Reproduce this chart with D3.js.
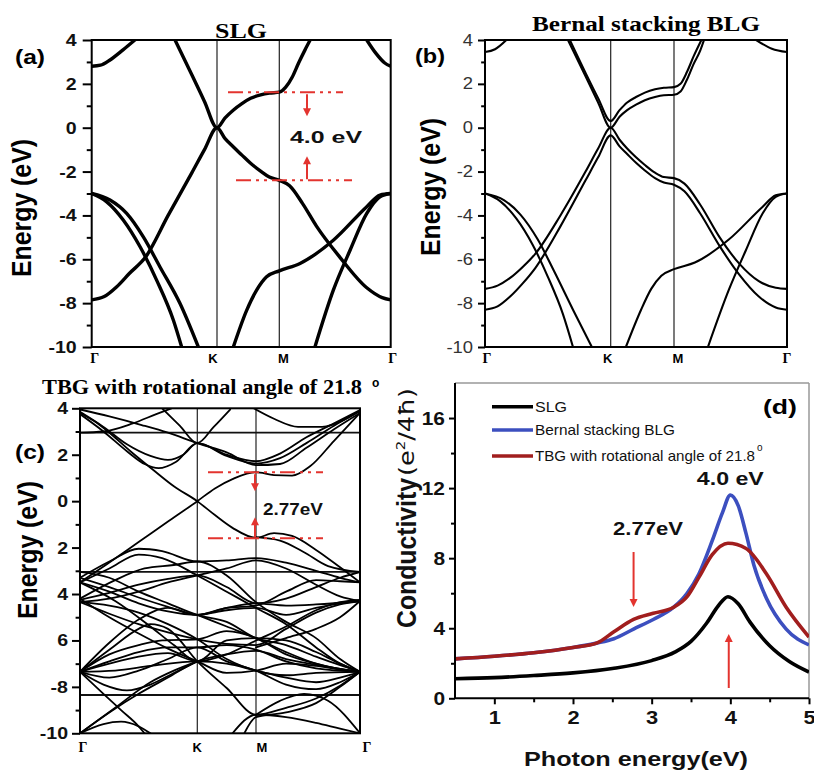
<!DOCTYPE html>
<html><head><meta charset="utf-8">
<script src="https://cdn.jsdelivr.net/npm/d3@7"></script>
<style>body{margin:0;background:#fff}svg{display:block}</style>
</head><body><svg id="fig" width="814" height="773"></svg>
<script>
// ---------- DATA ----------
const kPath = [0, 1, 1.5, 2.366];           // Γ, K, M, Γ (path coordinate)
const kPathLabels = ["Γ", "K", "M", "Γ"];
const energyTicks = [4, 2, 0, -2, -4, -6, -8, -10];
const energyMinorTicks = [3, 1, -1, -3, -5, -7, -9];
const energyTickLabelsA = ["4", "2", "0", "-2", "-4", "-6", "-8", "-10"];
const energyTickLabelsB = ["4", "2", "0", "-2", "-4", "-6", "-8", "-10"];
const energyTickLabelsC = ["4", "2", "0", "2", "4", "6", "-8", "-10"];
const panelTitles = ["SLG", "Bernal stacking BLG", "TBG with rotational angle of 21.8"];
const gapLabels = ["4.0 eV", "2.77eV"];

// (a) SLG bands [k, E]
const slgBands = [
  [[0,-7.85],[0.1,-7.7],[0.2,-7.25],[0.3,-6.65],[0.43,-5.9],[0.61,-4.0],[0.8,-2.05],[0.9,-1.0],[1,0],[1.065,-0.5],[1.13,-0.87],[1.2,-1.25],[1.265,-1.6],[1.35,-1.98],[1.42,-2.25],[1.5,-2.4],[1.58,-2.65],[1.68,-3.45],[1.79,-4.5],[1.97,-5.9],[2.18,-7.3],[2.3,-7.75],[2.366,-7.85]],
  [[0.665,4],[0.8,2.4],[0.9,1.2],[1,0],[1.065,0.45],[1.13,0.8],[1.2,1.1],[1.27,1.34],[1.35,1.5],[1.42,1.58],[1.5,1.62],[1.55,1.85],[1.6,2.3],[1.65,2.95],[1.7,3.55],[1.74,4.0]],
  [[0,2.8],[0.07,2.85],[0.146,3.09],[0.25,3.55],[0.345,4.0]],
  [[2.18,4.0],[2.25,3.4],[2.32,2.95],[2.366,2.8]],
  [[0,-3.0],[0.12,-3.38],[0.253,-4.22],[0.386,-5.43],[0.519,-6.96],[0.652,-8.78],[0.718,-10.0]],
  [[0,-3.0],[0.146,-3.3],[0.279,-3.91],[0.412,-4.98],[0.545,-6.35],[0.705,-8.02],[0.851,-10.0]],
  [[1.131,-10],[1.238,-8.33],[1.318,-7.41],[1.398,-6.8],[1.5,-6.53],[1.661,-6.19],[1.92,-5.13],[2.18,-3.6],[2.283,-3.07],[2.366,-3.0]],
  [[1.777,-10],[1.92,-7.41],[2.05,-5.59],[2.18,-3.91],[2.283,-3.15],[2.366,-3.0]]
];

// (b) Bernal BLG bands [k, E]
const blgBands = [
  [[0,3.45],[0.08,3.58],[0.17,4.0]],
  [[2.13,4.0],[2.25,3.6],[2.366,3.45]],
  [[0,-7.35],[0.1,-7.2],[0.2,-6.85],[0.3,-6.35],[0.4,-5.75],[0.6,-4.0],[0.8,-2.0],[0.9,-0.95],[1,0],[1.07,-0.55],[1.13,-0.95],[1.2,-1.35],[1.27,-1.7],[1.35,-2.05],[1.42,-2.25],[1.5,-2.3],[1.58,-2.55],[1.7,-3.5],[1.85,-5.0],[2.0,-6.2],[2.15,-7.0],[2.28,-7.3],[2.366,-7.35]],
  [[0,-8.3],[0.1,-8.15],[0.2,-7.7],[0.3,-7.1],[0.4,-6.4],[0.6,-4.5],[0.8,-2.4],[0.9,-1.35],[1,-0.35],[1.07,-0.85],[1.13,-1.2],[1.2,-1.6],[1.27,-1.95],[1.35,-2.3],[1.42,-2.5],[1.5,-2.6],[1.58,-2.9],[1.7,-3.9],[1.85,-5.4],[2.0,-6.7],[2.15,-7.7],[2.28,-8.2],[2.366,-8.3]],
  [[0.66,4],[0.8,2.35],[0.9,1.15],[1,0],[1.07,0.5],[1.13,0.8],[1.2,1.05],[1.27,1.25],[1.35,1.4],[1.42,1.48],[1.5,1.5],[1.55,1.65],[1.6,2.2],[1.65,2.9],[1.7,3.5],[1.73,4.0]],
  [[0.675,4],[0.8,2.5],[0.9,1.35],[1,0.3],[1.07,0.8],[1.13,1.15],[1.2,1.4],[1.27,1.6],[1.35,1.75],[1.42,1.82],[1.5,1.85],[1.55,2.0],[1.6,2.55],[1.65,3.25],[1.71,4.0]],
  [[0,-3.0],[0.12,-3.35],[0.25,-4.15],[0.38,-5.35],[0.5,-6.8],[0.62,-8.5],[0.7,-10]],
  [[0,-3.0],[0.15,-3.3],[0.28,-3.95],[0.42,-5.1],[0.55,-6.55],[0.7,-8.3],[0.85,-10]],
  [[1.12,-10],[1.24,-8.3],[1.32,-7.35],[1.4,-6.75],[1.5,-6.45],[1.66,-6.15],[1.92,-5.1],[2.18,-3.6],[2.28,-3.08],[2.366,-3.0]],
  [[1.76,-10],[1.92,-7.4],[2.05,-5.6],[2.18,-3.9],[2.28,-3.15],[2.366,-3.0]]
];

// (c) TBG 21.8° bands [k, E]
const tbgFlatLevels = [2.95, -3.05, -8.35];
const tbgBands = [
  [[0,3.8],[0.12,3.45],[0.24,2.99],[0.43,2.15],[0.625,1.34],[0.8,0.64],[1,0],[1.15,-0.6],[1.3,-1.15],[1.5,-1.58],[1.65,-1.38],[1.8,-1.5],[2.0,-2.1],[2.2,-2.85],[2.366,-3.5]],
  [[0,-3.5],[0.156,-2.97],[0.25,-2.64],[0.5,-1.76],[0.75,-0.88],[1,0],[1.15,0.55],[1.3,0.95],[1.5,1.25],[1.65,1.12],[1.8,1.1],[1.95,1.5],[2.15,2.6],[2.366,3.8]],
  [[0,3.85],[0.2,3.2],[0.4,2.45],[0.6,1.95],[0.75,1.78],[0.88,2.0],[1,2.5],[1.25,2.0],[1.5,1.72],[1.7,2.05],[1.92,2.75],[2.15,3.35],[2.366,3.92]],
  [[0,3.75],[0.2,3.0],[0.4,2.15],[0.55,1.6],[0.67,1.42],[0.82,1.7],[1,2.5],[1.25,1.95],[1.5,1.62],[1.7,1.85],[1.92,2.5],[2.15,3.25],[2.366,3.87]],
  [[0,3.95],[0.25,3.65],[0.526,3.28],[0.75,2.95],[1,2.5],[1.25,2.1],[1.5,1.55],[1.7,1.6],[1.92,2.3],[2.15,3.1],[2.366,3.8]],
  [[0,2.95],[0.2,3.0],[0.45,3.35],[0.65,3.75],[0.78,4.0]],
  [[0.7,4.0],[0.85,3.25],[1,2.5],[1.14,3.2],[1.28,3.95]],
  [[1.48,4.0],[1.65,3.55],[1.85,3.2],[2.05,3.2],[2.25,3.55],[2.366,3.9]],
  [[1.5,-1.55],[1.7,-1.7],[1.9,-2.2],[2.1,-2.8],[2.366,-3.05]],
  [[0,-3.3],[0.25,-2.6],[0.5,-2.05],[0.7,-2.15],[1,-2.6],[1.25,-2.55],[1.5,-2.45],[1.75,-2.65],[2.0,-3.0],[2.2,-3.3],[2.366,-3.5]],
  [[0,-3.5],[0.25,-2.9],[0.5,-2.3],[0.7,-2.45],[1,-3.2],[1.25,-3.9],[1.5,-4.6],[1.75,-5.3],[2.0,-6.3],[2.2,-7.0],[2.366,-7.35]],
  [[0,-4.25],[0.25,-3.95],[0.5,-3.6],[0.75,-3.35],[1,-3.2],[1.25,-3.7],[1.5,-4.4],[1.75,-4.2],[2.0,-3.7],[2.2,-3.3],[2.366,-3.05]],
  [[0,-3.3],[0.25,-3.7],[0.5,-4.15],[0.75,-4.55],[1,-4.9],[1.25,-4.6],[1.5,-4.5],[1.75,-3.9],[2.0,-3.4],[2.2,-3.45],[2.366,-3.5]],
  [[0,-4.35],[0.25,-4.85],[0.5,-5.3],[0.75,-5.65],[1,-5.95],[1.25,-6.15],[1.5,-6.2],[1.75,-5.5],[2.0,-4.8],[2.2,-4.45],[2.366,-4.3]],
  [[0,-4.2],[0.25,-5.0],[0.5,-5.7],[0.75,-6.35],[1,-6.9],[1.25,-7.4],[1.5,-7.3],[1.75,-7.0],[2.0,-7.1],[2.2,-7.25],[2.366,-7.35]],
  [[0,-3.5],[0.25,-3.9],[0.5,-4.4],[0.75,-4.75],[1,-4.9],[1.25,-4.7],[1.5,-4.6],[1.75,-4.9],[2.0,-4.6],[2.2,-4.4],[2.366,-4.3]],
  [[0,-7.35],[0.25,-6.6],[0.5,-6.2],[0.7,-6.0],[1,-5.95],[1.25,-5.6],[1.5,-5.9],[1.75,-6.6],[2.0,-7.0],[2.2,-7.25],[2.366,-7.35]],
  [[0,-7.35],[0.25,-6.9],[0.5,-6.5],[0.75,-6.3],[1,-6.3],[1.25,-6.2],[1.5,-6.4],[1.75,-6.9],[2.0,-7.2],[2.366,-7.35]],
  [[0,-7.35],[0.25,-7.0],[0.5,-6.7],[0.75,-6.55],[1,-6.9],[1.25,-6.6],[1.5,-6.0],[1.75,-5.4],[2.0,-4.7],[2.2,-4.35],[2.366,-4.25]],
  [[0,-7.35],[0.25,-6.4],[0.5,-5.5],[0.6,-5.3],[0.75,-5.5],[1,-6.9],[1.25,-8.05],[1.5,-9.2],[1.75,-8.9],[2.0,-8.5],[2.2,-7.95],[2.366,-7.35]],
  [[0,-7.35],[0.2,-7.9],[0.4,-8.15],[0.6,-7.9],[0.8,-7.4],[1,-6.9]],
  [[0,-10],[0.25,-9.1],[0.5,-8.3],[0.75,-7.6],[1,-6.9],[1.25,-6.6],[1.5,-6.45],[1.75,-6.8],[2.0,-7.05],[2.366,-7.35]],
  [[0,-10],[0.2,-9.6],[0.35,-9.5],[0.5,-9.7],[0.6,-10]],
  [[0,-7.35],[0.2,-8.3],[0.35,-9.0],[0.5,-9.7],[0.55,-10]],
  [[1.3,-10],[1.5,-9.2],[1.75,-9.3],[2.0,-9.55],[2.2,-9.8],[2.366,-10]],
  [[1.4,-10],[1.5,-9.3],[1.75,-9.1],[2.0,-8.7],[2.2,-8.0],[2.366,-7.35]],
  [[1,-4.9],[1.25,-5.4],[1.5,-5.9],[1.75,-6.5],[2.0,-7.0],[2.366,-7.35]],
  [[0,-4.35],[0.25,-4.5],[0.5,-4.8],[0.75,-5.3],[1,-5.95],[1.25,-6.8],[1.5,-7.3],[1.75,-7.5],[2.0,-7.4],[2.366,-7.35]],
  [[0,-4.2],[0.3,-3.4],[0.55,-2.9],[0.8,-2.75],[1,-2.6],[1.25,-3.2],[1.5,-4.35],[1.75,-5.2],[2.0,-5.9],[2.2,-6.8],[2.366,-7.35]],
  [[0,-3.05],[0.25,-3.3],[0.5,-3.9],[0.75,-4.4],[1,-4.9],[1.25,-5.2],[1.5,-5.9],[1.75,-6.2],[2.0,-6.7],[2.366,-7.35]],
  [[0,-7.35],[0.25,-6.1],[0.5,-5.1],[0.75,-4.6],[1,-4.9],[1.25,-4.6],[1.5,-4.4],[1.75,-4.5],[2.0,-4.45],[2.366,-4.3]],
  [[0,-7.35],[0.3,-7.3],[0.6,-7.1],[1,-6.9],[1.25,-7.0],[1.5,-7.3],[1.75,-7.6],[2.0,-7.8],[2.2,-7.6],[2.366,-7.35]],
  [[0,-10],[0.3,-8.9],[0.6,-7.8],[0.8,-7.3],[1,-6.9]],
  [[1.5,-9.2],[1.7,-8.6],[1.9,-8.3],[2.1,-8.6],[2.366,-10]],
  [[1.5,-6.3],[1.75,-5.9],[2.0,-5.5],[2.2,-5.0],[2.366,-4.3]],
  [[0,-3.5],[0.3,-4.3],[0.6,-5.4],[0.8,-6.2],[1,-6.9],[1.25,-6.0],[1.5,-5.9],[1.75,-6.0],[2.0,-6.5],[2.2,-7.0],[2.366,-7.35]],
  [[0,-4.35],[0.25,-4.2],[0.5,-3.9],[0.75,-3.5],[1,-3.2],[1.25,-2.9],[1.5,-2.55],[1.75,-2.9],[2.0,-3.6],[2.2,-4.1],[2.366,-4.3]],
  [[0,-7.35],[0.25,-7.6],[0.5,-7.3],[0.75,-6.8],[1,-6.3],[1.25,-6.9],[1.5,-7.3],[1.75,-7.9],[2.0,-8.1],[2.2,-7.8],[2.366,-7.35]]
];

// (d) optical conductivity
const photonTicks = [1, 2, 3, 4, 5];
const photonMinorTicks = [1.5, 2.5, 3.5, 4.5];
const condTicks = [0, 4, 8, 12, 16];
const condMinorTicks = [2, 6, 10, 14];
const seriesNames = ["SLG", "Bernal stacking BLG", "TBG with rotational angle of 21.8"];
const seriesColors = ["#000000", "#3c4fbf", "#a11e1e"];
const slgCond = [[0.5,1.12],[1.0,1.18],[1.5,1.3],[2.0,1.45],[2.5,1.7],[3.0,2.15],[3.3,2.65],[3.5,3.25],[3.7,4.3],[3.85,5.3],[3.97,5.8],[4.1,5.4],[4.25,4.35],[4.5,3.0],[4.75,2.1],[5.0,1.5]];
const blgCond = [[0.5,2.25],[1.0,2.4],[1.5,2.6],[2.0,2.9],[2.3,3.15],[2.52,3.4],[2.77,3.95],[3.02,4.5],[3.28,5.2],[3.45,6.0],[3.6,7.1],[3.77,9.0],[3.9,10.6],[4.0,11.6],[4.1,11.0],[4.2,9.4],[4.3,7.6],[4.46,5.7],[4.71,3.95],[5.0,3.05]];
const tbgCond = [[0.5,2.25],[1.0,2.4],[1.5,2.6],[2.0,2.9],[2.3,3.15],[2.52,3.8],[2.77,4.5],[3.02,4.85],[3.28,5.2],[3.45,5.8],[3.6,6.9],[3.77,8.2],[3.97,8.85],[4.2,8.55],[4.46,7.1],[4.71,5.2],[5.0,3.5]];

// ---------- DRAWING ----------
const svg = d3.select("#fig");
const SANS = "'Liberation Sans', Arial, sans-serif";
const SERIF = "'Liberation Serif', 'Times New Roman', serif";
const RED = "#e3342f";

function fitWidth(sel, w) {
  sel.attr("textLength", w).attr("lengthAdjust", "spacingAndGlyphs");
}
function stretch(sel, f) {
  sel.each(function () {
    const w = this.getComputedTextLength();
    d3.select(this).attr("textLength", w * f).attr("lengthAdjust", "spacingAndGlyphs");
  });
}

function bandPanel(p) {
  const g = svg.append("g");
  const x = d3.scaleLinear().domain(kPath).range(p.xr);
  const y = d3.scaleLinear().domain([-10, 4]).range([p.yb, p.yt]);
  const cid = "clip-" + p.name;
  svg.append("clipPath").attr("id", cid).append("rect")
    .attr("x", p.xr[0]).attr("y", p.yt).attr("width", p.xr[3] - p.xr[0]).attr("height", p.yb - p.yt);
  const inner = g.append("g").attr("clip-path", `url(#${cid})`);
  inner.selectAll("line.sym").data([kPath[1], kPath[2]]).join("line")
    .attr("x1", d => x(d)).attr("x2", d => x(d)).attr("y1", p.yt).attr("y2", p.yb)
    .attr("stroke", "#222").attr("stroke-width", 1.2);
  inner.selectAll("line.flat").data(p.flat || []).join("line")
    .attr("x1", p.xr[0]).attr("x2", p.xr[3]).attr("y1", d => y(d)).attr("y2", d => y(d))
    .attr("stroke", "#111").attr("stroke-width", p.lw);
  const line = d3.line().x(d => x(d[0])).y(d => y(d[1])).curve(d3.curveMonotoneX);
  inner.selectAll("path.band").data(p.bands).join("path")
    .attr("d", line).attr("fill", "none").attr("stroke", "#000")
    .attr("stroke-width", p.lw).attr("stroke-linejoin", "round").attr("stroke-linecap", "round");
  g.append("rect").attr("x", p.xr[0]).attr("y", p.yt).attr("width", p.xr[3] - p.xr[0]).attr("height", p.yb - p.yt)
    .attr("fill", "none").attr("stroke", "#000").attr("stroke-width", 2);
  const ax = d3.axisLeft(y).tickValues(energyTicks).tickSize(p.tick).tickPadding(p.pad)
    .tickFormat(d => p.tickLabels[energyTicks.indexOf(d)]);
  const axg = g.append("g").attr("transform", `translate(${p.xr[0]},0)`).call(ax);
  axg.select(".domain").remove();
  axg.selectAll("line").attr("stroke", "#000").attr("stroke-width", 2);
  axg.selectAll("text").attr("font-family", SANS).attr("font-size", p.tickFont)
    .attr("font-weight", p.tickWeight).attr("fill", p.tickColor).call(stretch, 1.15);
  const axm = d3.axisLeft(y).tickValues(energyMinorTicks).tickSize(p.tick * 0.55).tickFormat("");
  const amg = g.append("g").attr("transform", `translate(${p.xr[0]},0)`).call(axm);
  amg.select(".domain").remove();
  amg.selectAll("line").attr("stroke", "#000").attr("stroke-width", 2);
  g.selectAll("text.k").data(kPathLabels).join("text")
    .attr("x", (d, i) => x(kPath[i]) + (p.kdx ? p.kdx[i] : 0)).attr("y", p.yb + p.kdy)
    .attr("text-anchor", "middle")
    .attr("font-family", d => d === "Γ" ? SERIF : SANS)
    .attr("font-weight", "bold")
    .attr("font-size", d => d === "Γ" ? 14 : 13)
    .text(d => d);
  g.append("text").attr("transform", `translate(${p.ylab[0]},${p.ylab[1]}) rotate(-90) scale(1,1.2)`)
    .attr("text-anchor", "middle").attr("font-family", SANS).attr("font-size", 23).attr("font-weight", "bold")
    .text("Energy (eV)").call(fitWidth, 138);
  g.append("text").attr("x", p.letter[0]).attr("y", p.letter[1]).attr("font-family", SANS)
    .attr("font-size", 21).attr("font-weight", "bold").text(p.letterText).call(fitWidth, 30);
  return { x, y, g };
}

function dashDot(x1, x2, yy) {
  svg.append("line").attr("x1", x1).attr("x2", x2).attr("y1", yy).attr("y2", yy)
    .attr("stroke", RED).attr("stroke-width", 2).attr("stroke-dasharray", "15,5,3,5,3,5");
}
function arrow(xx, y1, y2, color) {
  const dir = y2 > y1 ? 1 : -1;
  svg.append("line").attr("x1", xx).attr("x2", xx).attr("y1", y1).attr("y2", y2 - dir * 6)
    .attr("stroke", color).attr("stroke-width", 2);
  svg.append("path").attr("d", `M${xx - 4},${y2 - dir * 8}L${xx + 4},${y2 - dir * 8}L${xx},${y2}Z`).attr("fill", color);
}

// Panel (a)
const A = bandPanel({ name: "a", xr: [91.7, 217, 279.3, 390.7], yt: 40, yb: 347, bands: slgBands, lw: 3.4,
  tick: 9, pad: 6, tickLabels: energyTickLabelsA, tickFont: 17, tickWeight: "bold", tickColor: "#111",
  kdy: 16, kdx: [3, -4, 4, 2], ylab: [31, 208], letter: [15, 64], letterText: "(a)" });
svg.append("text").attr("x", 241).attr("y", 38).attr("text-anchor", "middle").attr("font-family", SERIF)
  .attr("font-size", 21).attr("font-weight", "bold").text(panelTitles[0]).call(fitWidth, 52);
dashDot(228, 343, A.y(1.62));
dashDot(236, 352, A.y(-2.4));
arrow(307, A.y(1.62) + 2, A.y(1.62) + 24, RED);
arrow(307, A.y(-2.4) - 1, A.y(-2.4) - 24, RED);
svg.append("text").attr("x", 326).attr("y", 143).attr("text-anchor", "middle").attr("font-family", SANS)
  .attr("font-size", 17).attr("font-weight", "bold").attr("fill", "#111").text(gapLabels[0]).call(fitWidth, 72);

// Panel (b)
const B = bandPanel({ name: "b", xr: [485, 610.7, 674, 787], yt: 40, yb: 347, bands: blgBands, lw: 2.1,
  tick: 7, pad: 5, tickLabels: energyTickLabelsB, tickFont: 16, tickWeight: "normal", tickColor: "#333",
  kdy: 16, kdx: [2, -3, 4, 0], ylab: [440, 187], letter: [415, 63], letterText: "(b)" });
svg.append("text").attr("x", 646).attr("y", 31).attr("text-anchor", "middle").attr("font-family", SERIF)
  .attr("font-size", 22).attr("font-weight", "bold").text(panelTitles[1]).call(fitWidth, 228);

// Panel (c)
const C = bandPanel({ name: "c", xr: [80, 197.3, 256, 360], yt: 408.3, yb: 733.3, bands: tbgBands, lw: 1.8,
  flat: tbgFlatLevels, tick: 8, pad: 4, tickLabels: energyTickLabelsC, tickFont: 17, tickWeight: "bold", tickColor: "#111",
  kdy: 19, kdx: [3, 0, 6, 7], ylab: [37, 550], letter: [15, 459], letterText: "(c)" });
svg.append("text").attr("x", 42).attr("y", 394).attr("font-family", SERIF)
  .attr("font-size", 21).attr("font-weight", "bold").text(panelTitles[2]).call(fitWidth, 320);
svg.append("text").attr("x", 372).attr("y", 387).attr("font-family", SANS).attr("font-size", 12)
  .attr("font-weight", "bold").text("o");
dashDot(208, 323, C.y(1.25));
dashDot(208, 323, C.y(-1.6));
arrow(255, C.y(1.25) + 2, C.y(1.25) + 19, RED);
arrow(255, C.y(-1.6) - 1, C.y(-1.6) - 21, RED);
svg.append("text").attr("x", 293).attr("y", 515).attr("text-anchor", "middle").attr("font-family", SANS)
  .attr("font-size", 17).attr("font-weight", "bold").attr("fill", "#111").text(gapLabels[1]).call(fitWidth, 60);

// Panel (d)
const dx = d3.scaleLinear().domain([0.5, 5]).range([455, 809]);
const dy = d3.scaleLinear().domain([0, 18]).range([698.3, 383]);
const gd = svg.append("g");
svg.append("clipPath").attr("id", "clip-d").append("rect").attr("x", 455).attr("y", 383).attr("width", 354).attr("height", 315.3);
gd.append("line").attr("x1", 455).attr("x2", 809).attr("y1", 383).attr("y2", 383).attr("stroke", "#999").attr("stroke-width", 1.5);
gd.append("line").attr("x1", 809).attr("x2", 809).attr("y1", 383).attr("y2", 698.3).attr("stroke", "#999").attr("stroke-width", 1.5);
const series = [slgCond, blgCond, tbgCond];
const dline = d3.line().x(d => dx(d[0])).y(d => dy(d[1])).curve(d3.curveMonotoneX);
gd.append("g").attr("clip-path", "url(#clip-d)").selectAll("path").data(series).join("path")
  .attr("d", dline).attr("fill", "none").attr("stroke", (d, i) => seriesColors[i]).attr("stroke-width", 3.6);
const dxa = gd.append("g").attr("transform", "translate(0,698.3)")
  .call(d3.axisBottom(dx).tickValues(photonTicks).tickSize(6).tickPadding(6).tickFormat(d3.format("d")));
dxa.select(".domain").remove();
dxa.selectAll("line").attr("stroke", "#000").attr("stroke-width", 2);
dxa.selectAll("text").attr("font-family", SANS).attr("font-size", 19).attr("font-weight", "bold").attr("fill", "#111").call(stretch, 1.15);
const dxm = gd.append("g").attr("transform", "translate(0,698.3)")
  .call(d3.axisBottom(dx).tickValues(photonMinorTicks).tickSize(4).tickFormat(""));
dxm.select(".domain").remove();
dxm.selectAll("line").attr("stroke", "#000").attr("stroke-width", 2);
const dya = gd.append("g").attr("transform", "translate(455,0)")
  .call(d3.axisLeft(dy).tickValues(condTicks).tickSize(6).tickPadding(4).tickFormat(d3.format("d")));
dya.select(".domain").remove();
dya.selectAll("line").attr("stroke", "#000").attr("stroke-width", 2);
dya.selectAll("text").attr("font-family", SANS).attr("font-size", 19).attr("font-weight", "bold").attr("fill", "#111").call(stretch, 1.1);
const dym = gd.append("g").attr("transform", "translate(455,0)")
  .call(d3.axisLeft(dy).tickValues(condMinorTicks).tickSize(4).tickFormat(""));
dym.select(".domain").remove();
dym.selectAll("line").attr("stroke", "#000").attr("stroke-width", 2);
gd.append("line").attr("x1", 455).attr("x2", 809).attr("y1", 698.3).attr("y2", 698.3).attr("stroke", "#000").attr("stroke-width", 2);
gd.append("line").attr("x1", 455).attr("x2", 455).attr("y1", 383).attr("y2", 698.3).attr("stroke", "#000").attr("stroke-width", 2);
// legend
const legY = [406.7, 430, 456];
seriesNames.forEach((name, i) => {
  gd.append("line").attr("x1", 492).attr("x2", 533).attr("y1", legY[i]).attr("y2", legY[i])
    .attr("stroke", seriesColors[i]).attr("stroke-width", 3.6);
  gd.append("text").attr("x", 535).attr("y", legY[i] + 5).attr("font-family", SANS).attr("font-size", 15).attr("fill", "#111")
    .text(name).call(fitWidth, [32, 140, 220][i]);
});
gd.append("text").attr("x", 757).attr("y", 451).attr("font-family", SANS).attr("font-size", 10).attr("fill", "#111").text("o");
gd.append("text").attr("x", 763).attr("y", 414).attr("font-family", SANS).attr("font-size", 21).attr("font-weight", "bold").text("(d)").call(fitWidth, 34);
// axis titles
gd.append("text").attr("transform", "translate(416,628) rotate(-90) scale(1,1.15)").attr("font-family", SANS)
  .attr("fill", "#111").attr("font-size", 24).attr("font-weight", "bold").text("Conductivity").call(fitWidth, 150);
const unit = gd.append("text").attr("transform", "translate(414,476) rotate(-90) scale(1,1.1)").attr("font-family", "'DejaVu Sans', sans-serif").attr("fill", "#111");
unit.append("tspan").attr("font-size", 19).text("(e");
unit.append("tspan").attr("font-size", 11).attr("dy", -8).text("2");
unit.append("tspan").attr("font-size", 19).attr("dy", 8).text("/4ħ)");
unit.call(fitWidth, 88);
gd.append("text").attr("x", 636).attr("y", 766).attr("text-anchor", "middle").attr("font-family", SANS)
  .attr("font-size", 21).attr("font-weight", "bold").attr("fill", "#111").text("Photon energy(eV)").call(fitWidth, 224);
// annotations
gd.append("text").attr("x", dx(4.0)).attr("y", 485).attr("text-anchor", "middle").attr("font-family", SANS)
  .attr("font-size", 19).attr("font-weight", "bold").attr("fill", "#111").text(gapLabels[0]).call(fitWidth, 67);
gd.append("text").attr("x", 648).attr("y", 535).attr("text-anchor", "middle").attr("font-family", SANS)
  .attr("font-size", 19).attr("font-weight", "bold").attr("fill", "#111").text(gapLabels[1]).call(fitWidth, 70);
arrow(dx(2.77), 552, 607, RED);
arrow(dx(3.98), 688, 634, RED);
</script></body></html>
